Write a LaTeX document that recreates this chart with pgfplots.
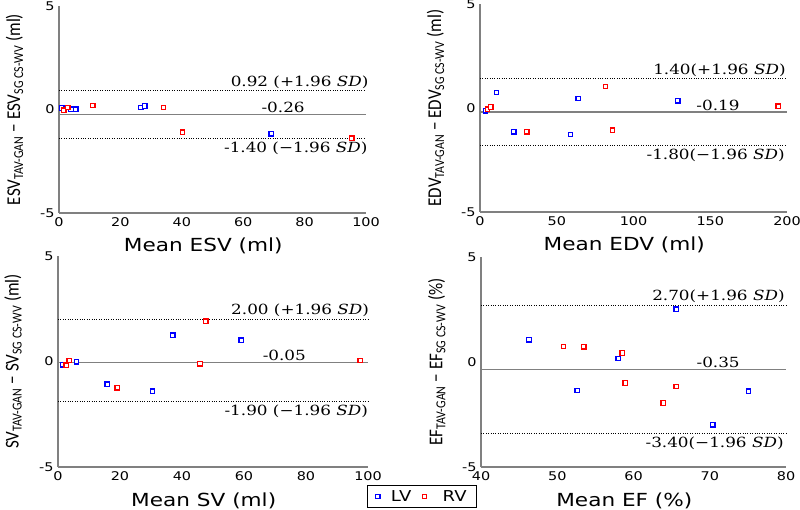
\documentclass[border=0pt]{standalone}
\usepackage{pgfplots}
\pgfplotsset{compat=1.18}
\usepackage{graphicx}
\usepackage{fontspec}
\setmainfont{DejaVu Sans}
\newfontfamily\tckf{DejaVu Sans}
\newfontfamily\labf{Carlito}
\newfontfamily\annf{DejaVu Serif}
\newcommand\tck{\tckf\fontsize{12bp}{14bp}\selectfont}
\newcommand\lab{\labf\fontsize{17bp}{20bp}\selectfont}
\newcommand\xlab{\tckf\fontsize{18bp}{21bp}\selectfont}
\newcommand\legf{\tckf\fontsize{15bp}{17bp}\selectfont}
\newcommand\ann{\annf\fontsize{14bp}{16bp}\selectfont}
\newcommand\hs[1]{\scalebox{1.2}[1]{#1}}
\newcommand\vs[1]{\scalebox{1}[1.15]{#1}}
\definecolor{lvblue}{RGB}{0,0,255}
\definecolor{rvred}{RGB}{255,0,0}
\definecolor{axgray}{RGB}{128,128,128}
\pgfplotsset{
  ba/.style={
    scale only axis,
    axis x line=bottom, axis y line=left,
    axis line style={-, axgray, line width=1.2bp},
    major tick length=0pt,
    ymin=-5, ymax=5, ytick={-5,0,5},
    yticklabels={\hs{-5},\hs{0},\hs{5}},
    ticklabel style={font=\tck, text=black},
    xticklabel style={yshift=-1bp},
    yticklabel style={xshift=-1bp},
    xlabel style={font=\xlab, at={(axis description cs:0.47,-0.16)}, anchor=center},
    ylabel style={font=\lab, at={(axis description cs:-0.145,0.5)}, anchor=center, rotate=0},
    clip=false,
  },
  lv/.style={only marks, mark=square*, color=lvblue, mark size=2.2bp,
    mark options={draw=lvblue, fill=white, line width=1.3bp, solid}},
  rv/.style={only marks, mark=square*, color=rvred, mark size=2.2bp,
    mark options={draw=rvred, fill=white, line width=1.3bp, solid}},
  ml/.style={axgray, line width=1.2bp, forget plot},
  dl/.style={black, line width=1.2bp, dash pattern=on 1bp off 1.4bp, forget plot},
}
\begin{document}
\begin{tikzpicture}
\useasboundingbox (0,0) rectangle (800bp,510bp);

% ESV
\begin{axis}[ba, at={(59bp,297bp)}, anchor=south west, width=307bp, height=207bp,
  xmin=0, xmax=100, xtick={0,20,40,60,80,100},
  xticklabels={\hs{0},\hs{20},\hs{40},\hs{60},\hs{80},\hs{100}},
  xlabel={\hs{Mean ESV (ml)}},
  ylabel={\vs{ESV\textsubscript{TAV-GAN} − ESV\textsubscript{SG CS-WV} (ml)}}]
\addplot[ml] coordinates {(0,-0.26) (100,-0.26)};
\addplot[dl] coordinates {(0,0.92) (100,0.92)};
\addplot[dl] coordinates {(0,-1.40) (100,-1.40)};
\addplot[lv] coordinates {(0.9,0.07) (3.9,0.01) (5.5,0.02) (26.7,0.09) (27.9,0.17) (69.1,-1.17)};
\addplot[rv] coordinates {(1.6,-0.04) (2.9,0.09) (11.0,0.19) (34.0,0.09) (40.2,-1.10) (95.4,-1.39)};
\node[anchor=south east, inner sep=2bp, font=\ann] at (axis cs:101.5,0.92) {\hs{0.92 (+1.96 \textit{SD})}};
\node[anchor=south, inner sep=1.5bp, font=\ann] at (axis cs:73,-0.26) {\hs{-0.26}};
\node[anchor=north east, inner sep=3bp, font=\ann] at (axis cs:101.5,-1.40) {\hs{-1.40 (−1.96 \textit{SD})}};
\end{axis}

% EDV
\begin{axis}[ba, at={(480bp,298bp)}, anchor=south west, width=307bp, height=208bp,
  xmin=0, xmax=200, xtick={0,50,100,150,200},
  xticklabels={\hs{0},\hs{50},\hs{100},\hs{150},\hs{200}},
  xlabel={\hs{Mean EDV (ml)}},
  ylabel={\vs{EDV\textsubscript{TAV-GAN} − EDV\textsubscript{SG CS-WV} (ml)}}]
\addplot[ml] coordinates {(0,-0.19) (200,-0.19)};
\addplot[dl] coordinates {(0,1.40) (200,1.40)};
\addplot[dl] coordinates {(0,-1.80) (200,-1.80)};
\addplot[lv] coordinates {(3.5,-0.14) (10.7,0.75) (22.0,-1.15) (58.9,-1.27) (63.9,0.46) (128.9,0.35)};
\addplot[rv] coordinates {(4.8,-0.06) (7.0,0.05) (30.4,-1.14) (81.7,1.04) (86.3,-1.07) (194.3,0.08)};
\node[anchor=south east, inner sep=2bp, font=\ann] at (axis cs:200.5,1.40) {\hs{1.40(+1.96 \textit{SD})}};
\node[anchor=south, inner sep=1.5bp, font=\ann] at (axis cs:155,-0.19) {\hs{-0.19}};
\node[anchor=north east, inner sep=3bp, font=\ann] at (axis cs:200.5,-1.80) {\hs{-1.80(−1.96 \textit{SD})}};
\end{axis}

% SV
\begin{axis}[ba, at={(58bp,43bp)}, anchor=south west, width=310bp, height=211bp,
  xmin=0, xmax=100, xtick={0,20,40,60,80,100},
  xticklabels={\hs{0},\hs{20},\hs{40},\hs{60},\hs{80},\hs{100}},
  xlabel={\hs{Mean SV (ml)}},
  ylabel={\vs{SV\textsubscript{TAV-GAN} − SV\textsubscript{SG CS-WV} (ml)}},
  legend columns=2,
  legend image code/.code={\draw[#1] plot coordinates {(0bp,0bp)};},
  legend style={at={(axis description cs:0.997,-0.085)}, anchor=north west,
    draw=black, line width=1bp, font=\legf, inner xsep=8bp, inner ysep=3bp,
    column sep=9bp},
  legend cell align=left]
\addplot[lv] coordinates {(1.6,-0.16) (6.0,-0.02) (15.9,-1.07) (30.5,-1.41) (37.0,1.25) (59.1,1.01)};
\addlegendentry{\hs{LV}}
\addplot[rv] coordinates {(2.6,-0.17) (3.6,0.05) (19.1,-1.25) (45.8,-0.11) (47.7,1.91) (97.5,0.05)};
\addlegendentry{\hspace*{5bp}\hs{RV}}
\addplot[ml] coordinates {(0,-0.05) (100,-0.05)};
\addplot[dl] coordinates {(0,2.00) (100,2.00)};
\addplot[dl] coordinates {(0,-1.90) (100,-1.90)};
\node[anchor=south east, inner sep=2bp, font=\ann] at (axis cs:101,2.00) {\hs{2.00 (+1.96 \textit{SD})}};
\node[anchor=south, inner sep=1.5bp, font=\ann] at (axis cs:73,-0.05) {\hs{-0.05}};
\node[anchor=north east, inner sep=3bp, font=\ann] at (axis cs:101,-1.90) {\hs{-1.90 (−1.96 \textit{SD})}};
\end{axis}

% EF
\begin{axis}[ba, at={(481bp,43bp)}, anchor=south west, width=305bp, height=210bp,
  xmin=40, xmax=80, xtick={40,50,60,70,80},
  xticklabels={\hs{40},\hs{50},\hs{60},\hs{70},\hs{80}},
  xlabel={\hs{Mean EF (\%)}},
  ylabel={\vs{EF\textsubscript{TAV-GAN} − EF\textsubscript{SG CS-WV} (\%)}}]
\addplot[ml] coordinates {(40,-0.35) (80,-0.35)};
\addplot[dl] coordinates {(40,2.70) (80,2.70)};
\addplot[dl] coordinates {(40,-3.40) (80,-3.40)};
\addplot[lv] coordinates {(46.3,1.06) (52.6,-1.36) (58.0,0.16) (65.6,2.52) (70.4,-2.99) (75.1,-1.39)};
\addplot[rv] coordinates {(50.8,0.74) (53.5,0.73) (58.5,0.43) (58.9,-1.00) (63.9,-1.95) (65.6,-1.17)};
\node[anchor=south east, inner sep=2bp, font=\ann] at (axis cs:80.1,2.70) {\hs{2.70(+1.96 \textit{SD})}};
\node[anchor=south, inner sep=1.5bp, font=\ann] at (axis cs:71.1,-0.35) {\hs{-0.35}};
\node[anchor=north east, inner sep=3bp, font=\ann] at (axis cs:80.1,-3.40) {\hs{-3.40(−1.96 \textit{SD})}};
\end{axis}
\end{tikzpicture}
\end{document}
